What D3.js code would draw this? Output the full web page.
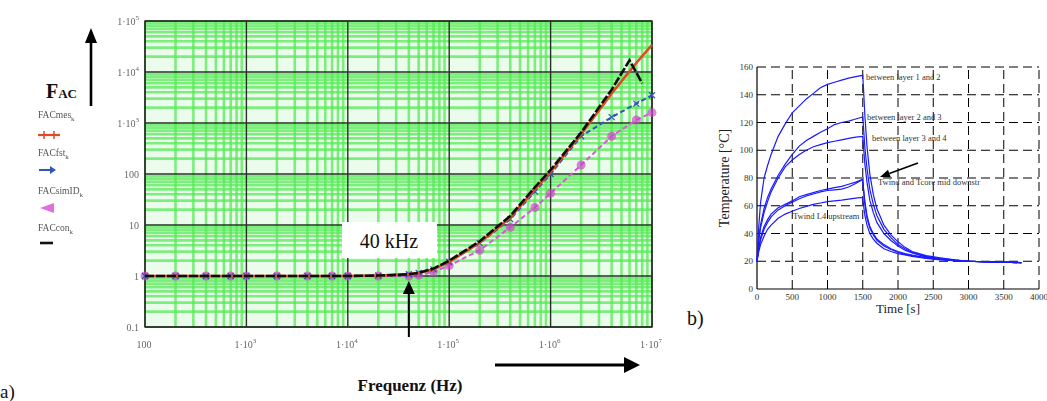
<!DOCTYPE html>
<html><head><meta charset="utf-8">
<script src="https://cdn.jsdelivr.net/npm/d3@7"></script>
<style>
body{margin:0;background:#fff;}
svg{display:block;}
text{font-family:'Liberation Serif','Times New Roman','DejaVu Serif',serif;}
</style>
</head><body>
<svg id="c" width="1047" height="401" font-family="Liberation Serif, Times New Roman, DejaVu Serif, serif"></svg>
<script>
// ---------------- data: chart a) (log-log) ----------------
const freqTicks = [100, 1e3, 1e4, 1e5, 1e6, 1e7];
const freqTickBase = ["100", "1·10", "1·10", "1·10", "1·10", "1·10"];
const freqTickExp = ["", "3", "4", "5", "6", "7"];
const facTicks = [0.1, 1, 10, 100, 1e3, 1e4, 1e5];
const facTickBase = ["0.1", "1", "10", "100", "1·10", "1·10", "1·10"];
const facTickExp = ["", "", "", "", "3", "4", "5"];

const freq = [100, 200, 400, 700, 1e3, 2e3, 4e3, 7e3, 1e4, 2e4, 4e4, 5e4, 7e4, 1e5, 2e5, 4e5, 7e5, 1e6, 2e6, 4e6, 7e6, 1e7];
const facMes   = [1, 1, 1, 1, 1, 1, 1, 1, 1, 1.02, 1.08, 1.15, 1.35, 1.9, 4.5, 14, 50, 110, 600, 3800, 15000, 34000];
const facFst   = [1, 1, 1, 1, 1, 1, 1, 1, 1, 1.02, 1.08, 1.15, 1.35, 1.9, 4.4, 13, 45, 100, 550, 1300, 2400, 3500];
const facSimID = [1, 1, 1, 1, 1, 1, 1, 1, 1, 1, 1, 1.04, 1.2, 1.6, 3.2, 9, 22, 42, 150, 550, 1150, 1600];
const freqCon = [100, 200, 400, 700, 1e3, 2e3, 4e3, 7e3, 1e4, 2e4, 4e4, 5e4, 7e4, 1e5, 2e5, 4e5, 7e5, 1e6, 2e6, 4e6, 6e6, 8e6];
const facCon  = [1, 1, 1, 1, 1, 1, 1, 1, 1, 1.02, 1.08, 1.15, 1.4, 2.0, 4.8, 15, 55, 120, 650, 4500, 17000, 6000];

const legendNames = ["FACmes", "FACfst", "FACsimID", "FACcon"];

// ---------------- data: chart b) ----------------
const timeS = [0,25,50,100,150,200,300,400,500,600,700,800,900,1000,1100,1200,1300,1400,1500,
               1510,1530,1560,1600,1650,1700,1800,1900,2000,2100,2200,2400,2600,2800,3000,3250,3500,3750];
const tLayer12 = [20,45,62,80,89,97,110,119,127,132,137,141,145,147.5,149,150.5,152,153,154,
                  145,125,103,83,68,58,46,39,34,30,27,24,22.5,21,20,19.7,19.4,19];
const tLayer23 = [20,36,46,58,66,72,82,90,97,103,107,110,113,115.5,118.5,120,121,122.5,124,
                  117,102,87,72,61,53,43,37,32,29,26.5,23.5,22,21,20,19.7,19.4,19];
const tLayer34 = [20,35,44,55,63,70,80,88,93,97,100,102.5,104,105.5,106.5,107.5,108.5,109.5,110,
                  103,90,77,64,55,48,40,35,31,28,26,23,21.5,20.5,20,19.6,19.3,19];
const tWindMid = [20,30,37,45,50,54,58.5,61,63.5,66.5,68,69.5,71,72,73,74,75.5,77,79,
                  73,63,53,45,40,36,32,29,27,25.5,24.5,22.5,21.5,20.5,20,19.6,19.3,19];
const tCoreMid = [20,29,35,43,48,52,57,60,62.5,65,67,68.5,70,71,71.5,72,73.5,76,79,
                  72,61,51,44,39,35,31,28.5,26.5,25,24,22.5,21.5,20.5,20,19.6,19.3,19];
const tWindL4  = [20,27,32,38,43,46,51,54,56,58,59.5,61,62,63,63.5,64,64.8,65.5,66,
                  61,53,46,40,36,33,29,27,25.5,24.5,23.5,22,21,20.5,20,19.6,19.3,19];
const timeTicks = [0,500,1000,1500,2000,2500,3000,3500,4000];
const tempTicks = [0,20,40,60,80,100,120,140,160];
const curveLabels = ["between layer 1 and 2","between layer 2 and 3","between layer 3 and 4",
                     "Twind and Tcore mid downstr","Twind L4 upstream"];

// ======================================================
const SERIF = "Liberation Serif, Times New Roman, DejaVu Serif, serif";
const svg = d3.select("#c");
const defs = svg.append("defs");
defs.append("filter").attr("id", "soft").attr("x", "-5%").attr("y", "-5%").attr("width", "110%").attr("height", "110%")
  .append("feGaussianBlur").attr("stdDeviation", 0.7);
defs.append("filter").attr("id", "softT")
  .append("feGaussianBlur").attr("stdDeviation", 0.35);

// ---------- chart a ----------
const xL = d3.scaleLog().domain([100, 1e7]).range([145, 652]);
const yL = d3.scaleLog().domain([0.1, 1e5]).range([327, 21]);
const gA = svg.append("g");
const gGrid = gA.append("g").attr("filter", "url(#soft)");

gGrid.append("rect").attr("x", xL(100)).attr("y", yL(1e5))
  .attr("width", xL(1e7) - xL(100)).attr("height", yL(0.1) - yL(1e5))
  .attr("fill", "#ecfcec");

const minorX = [], minorY = [];
for (let d = 100; d < 1e7; d *= 10) for (let k = 2; k < 10; k++) minorX.push(k * d);
for (let d = 0.1; d < 1e5 * 0.99; d *= 10) for (let k = 2; k < 10; k++) minorY.push(k * d);

gGrid.selectAll("line.mx").data(minorX).join("line")
  .attr("x1", d => xL(d)).attr("x2", d => xL(d))
  .attr("y1", yL(1e5)).attr("y2", yL(0.1))
  .attr("stroke", "#55ea55").attr("stroke-width", 2.6).attr("stroke-opacity", 0.75);
gGrid.selectAll("line.my").data(minorY).join("line")
  .attr("y1", d => yL(d)).attr("y2", d => yL(d))
  .attr("x1", xL(100)).attr("x2", xL(1e7))
  .attr("stroke", "#55ea55").attr("stroke-width", 2.6).attr("stroke-opacity", 0.75);

gGrid.selectAll("line.MX").data(freqTicks).join("line")
  .attr("x1", d => xL(d)).attr("x2", d => xL(d))
  .attr("y1", yL(1e5)).attr("y2", yL(0.1))
  .attr("stroke", "#223322").attr("stroke-width", 1.4);
gGrid.selectAll("line.MY").data(facTicks).join("line")
  .attr("y1", d => yL(d)).attr("y2", d => yL(d))
  .attr("x1", xL(100)).attr("x2", xL(1e7))
  .attr("stroke", "#223322").attr("stroke-width", 1.4);
gGrid.append("rect").attr("x", xL(100)).attr("y", yL(1e5))
  .attr("width", xL(1e7) - xL(100)).attr("height", yL(0.1) - yL(1e5))
  .attr("fill", "none").attr("stroke", "#223322").attr("stroke-width", 1.4);

// tick labels
const gTk = gA.append("g").attr("filter", "url(#softT)");
const yLab = gTk.selectAll("text.yl").data(facTicks).join("text")
  .attr("x", 139).attr("y", d => yL(d) + 3.5).attr("font-family", SERIF)
  .attr("text-anchor", "end").attr("font-size", 10).attr("fill", "#666");
yLab.append("tspan").text((d, i) => facTickBase[i]);
yLab.append("tspan").attr("dy", -5).attr("font-size", 7).text((d, i) => facTickExp[i]);

const xLab = gTk.selectAll("text.xl").data(freqTicks).join("text")
  .attr("x", d => xL(d) - 1).attr("y", 348).attr("font-family", SERIF)
  .attr("text-anchor", "middle").attr("font-size", 10).attr("fill", "#666");
xLab.append("tspan").text((d, i) => freqTickBase[i]);
xLab.append("tspan").attr("dy", -5).attr("font-size", 7).text((d, i) => freqTickExp[i]);

// series
const lineL = d3.line().x(d => xL(d[0])).y(d => yL(d[1]));
const ptsMes = freq.map((f, i) => [f, facMes[i]]);
const ptsFst = freq.map((f, i) => [f, facFst[i]]);
const ptsSim = freq.map((f, i) => [f, facSimID[i]]);
const ptsCon = freqCon.map((f, i) => [f, facCon[i]]);
const gS = gA.append("g").attr("filter", "url(#softT)");

gS.append("path").datum(ptsSim).attr("d", lineL).attr("fill", "none")
  .attr("stroke", "#dd55dd").attr("stroke-width", 2).attr("stroke-dasharray", "5,3");
gS.selectAll("circle.sim").data(ptsSim).join("circle")
  .attr("cx", d => xL(d[0])).attr("cy", d => yL(d[1])).attr("r", 4.5)
  .attr("fill", "#d040c8").attr("fill-opacity", 0.65);

gS.append("path").datum(ptsFst).attr("d", lineL).attr("fill", "none")
  .attr("stroke", "#3355bb").attr("stroke-width", 2).attr("stroke-dasharray", "5,3");
gS.selectAll("path.fstm").data(ptsFst).join("path")
  .attr("d", d => `M${xL(d[0]) - 3},${yL(d[1]) - 3}L${xL(d[0]) + 3},${yL(d[1]) + 3}M${xL(d[0]) - 3},${yL(d[1]) + 3}L${xL(d[0]) + 3},${yL(d[1]) - 3}`)
  .attr("stroke", "#3355bb").attr("stroke-width", 1.2);

gS.append("path").datum(ptsMes).attr("d", lineL).attr("fill", "none")
  .attr("stroke", "#e04a25").attr("stroke-width", 2.6);

gS.append("path").datum(ptsCon).attr("d", lineL).attr("fill", "none")
  .attr("stroke", "#111").attr("stroke-width", 2.6).attr("stroke-dasharray", "9,2");

// 40 kHz annotation
gA.append("rect").attr("x", 342).attr("y", 222).attr("width", 95).attr("height", 36).attr("fill", "#fff");
gA.append("text").attr("x", 389).attr("y", 248).attr("text-anchor", "middle").attr("font-family", SERIF)
  .attr("font-size", 20).attr("fill", "#111").text("40 kHz");
const ax40 = xL(4e4);
gA.append("line").attr("x1", ax40).attr("x2", ax40).attr("y1", 337).attr("y2", 292)
  .attr("stroke", "#000").attr("stroke-width", 2);
gA.append("path").attr("d", `M${ax40},281L${ax40 - 6},294L${ax40 + 6},294Z`).attr("fill", "#000");

// axis titles / arrows
gA.append("text").attr("x", 410).attr("y", 391).attr("text-anchor", "middle").attr("font-family", SERIF)
  .attr("font-size", 17).attr("font-weight", "bold").attr("fill", "#111").text("Frequenz (Hz)");
gA.append("line").attr("x1", 495).attr("x2", 626).attr("y1", 365).attr("y2", 365)
  .attr("stroke", "#000").attr("stroke-width", 3);
gA.append("path").attr("d", "M640,365L624,357L624,373Z").attr("fill", "#000");

gA.append("line").attr("x1", 91).attr("x2", 91).attr("y1", 106).attr("y2", 40)
  .attr("stroke", "#000").attr("stroke-width", 2.6);
gA.append("path").attr("d", "M91,28L85,43L97,43Z").attr("fill", "#000");
const fac = gA.append("text").attr("x", 46).attr("y", 98).attr("font-weight", "bold").attr("font-family", SERIF).attr("fill", "#111");
fac.append("tspan").attr("font-size", 20).text("F");
fac.append("tspan").attr("font-size", 13).text("AC");

// legend
const legY = [118, 156, 194, 231];
const legG = gA.selectAll("g.leg").data(legendNames).join("g")
  .attr("transform", (d, i) => `translate(38,${legY[i]})`).attr("filter", "url(#softT)");
const legT = legG.append("text").attr("font-size", 9.5).attr("fill", "#555").attr("font-family", SERIF);
legT.append("tspan").text(d => d);
legT.append("tspan").attr("dy", 3).attr("font-size", 7).text("k");
// legend samples
gA.append("line").attr("x1", 38).attr("x2", 60).attr("y1", 135).attr("y2", 135).attr("stroke", "#e04a25").attr("stroke-width", 2.2);
gA.append("path").attr("d", "M44,131L44,139M54,131L54,139").attr("stroke", "#e04a25").attr("stroke-width", 1.5);
gA.append("line").attr("x1", 39).attr("x2", 52).attr("y1", 170).attr("y2", 170).attr("stroke", "#3355bb").attr("stroke-width", 2);
gA.append("path").attr("d", "M56,170L50,166L50,174Z").attr("fill", "#3355bb");
gA.append("path").attr("d", "M40,208L54,203L54,213Z").attr("fill", "#e070e0");
gA.append("line").attr("x1", 40).attr("x2", 53).attr("y1", 243).attr("y2", 243).attr("stroke", "#111").attr("stroke-width", 2.6);

svg.append("text").attr("x", 0).attr("y", 398).attr("font-size", 19).attr("font-family", SERIF).attr("fill", "#111").text("a)");

// ---------- chart b ----------
const xR = d3.scaleLinear().domain([0, 4000]).range([757, 1039]);
const yR = d3.scaleLinear().domain([0, 160]).range([289, 67]);
const gB = svg.append("g");

gB.selectAll("line.gx").data(timeTicks.slice(1)).join("line")
  .attr("x1", d => xR(d)).attr("x2", d => xR(d)).attr("y1", yR(0)).attr("y2", yR(160))
  .attr("stroke", "#000").attr("stroke-width", 1).attr("stroke-dasharray", "9,5");
gB.selectAll("line.gy").data(tempTicks.slice(1)).join("line")
  .attr("y1", d => yR(d)).attr("y2", d => yR(d)).attr("x1", xR(0)).attr("x2", xR(4000))
  .attr("stroke", "#000").attr("stroke-width", 1).attr("stroke-dasharray", "9,5");
gB.append("line").attr("x1", xR(0)).attr("x2", xR(0)).attr("y1", yR(0)).attr("y2", yR(160))
  .attr("stroke", "#000").attr("stroke-width", 1.2);
gB.append("line").attr("x1", xR(0)).attr("x2", xR(4000)).attr("y1", yR(0)).attr("y2", yR(0))
  .attr("stroke", "#000").attr("stroke-width", 1.2);

gB.selectAll("text.tx").data(timeTicks).join("text")
  .attr("x", d => xR(d)).attr("y", 300).attr("text-anchor", "middle").attr("font-family", SERIF)
  .attr("font-size", 9).attr("fill", "#333").text(d => d);
gB.selectAll("text.ty").data(tempTicks).join("text")
  .attr("x", 753).attr("y", d => yR(d) + 3).attr("text-anchor", "end").attr("font-family", SERIF)
  .attr("font-size", 9).attr("fill", "#333").text(d => d);

gB.append("text").attr("x", xR(2000)).attr("y", 313).attr("text-anchor", "middle").attr("font-family", SERIF)
  .attr("font-size", 13).attr("fill", "#222").text("Time [s]");
gB.append("text").attr("transform", `translate(729,${yR(80)}) rotate(-90)`).attr("font-family", SERIF)
  .attr("text-anchor", "middle").attr("font-size", 14).attr("fill", "#222").text("Temperature [°C]");

const lineR = d3.line().x((d, i) => xR(timeS[i])).y(d => yR(d));
const curves = [tLayer12, tLayer23, tLayer34, tWindMid, tCoreMid, tWindL4];
gB.selectAll("path.cv").data(curves).join("path")
  .attr("d", lineR).attr("fill", "none").attr("stroke", "#1a1aff").attr("stroke-width", 1.2);

const labPos = [[866, 80], [867, 120], [872, 141], [878, 185], [793, 219]];
gB.selectAll("text.cl").data(curveLabels).join("text")
  .attr("x", (d, i) => labPos[i][0]).attr("y", (d, i) => labPos[i][1]).attr("font-family", SERIF)
  .attr("font-size", 8.5).attr("fill", "#333").text(d => d);

// arrow
const a0 = [918, 163], a1 = [880, 177];
const ang = Math.atan2(a1[1] - a0[1], a1[0] - a0[0]);
const hl = 10, hw = 4;
const bx = a1[0] - hl * Math.cos(ang), by = a1[1] - hl * Math.sin(ang);
gB.append("line").attr("x1", a0[0]).attr("y1", a0[1]).attr("x2", bx).attr("y2", by)
  .attr("stroke", "#000").attr("stroke-width", 1.5);
gB.append("path").attr("d", `M${a1[0]},${a1[1]}L${bx - hw * Math.sin(ang)},${by + hw * Math.cos(ang)}L${bx + hw * Math.sin(ang)},${by - hw * Math.cos(ang)}Z`)
  .attr("fill", "#000");

svg.append("text").attr("x", 687).attr("y", 325).attr("font-size", 20).attr("font-family", SERIF).attr("fill", "#111").text("b)");
</script>
</body></html>
